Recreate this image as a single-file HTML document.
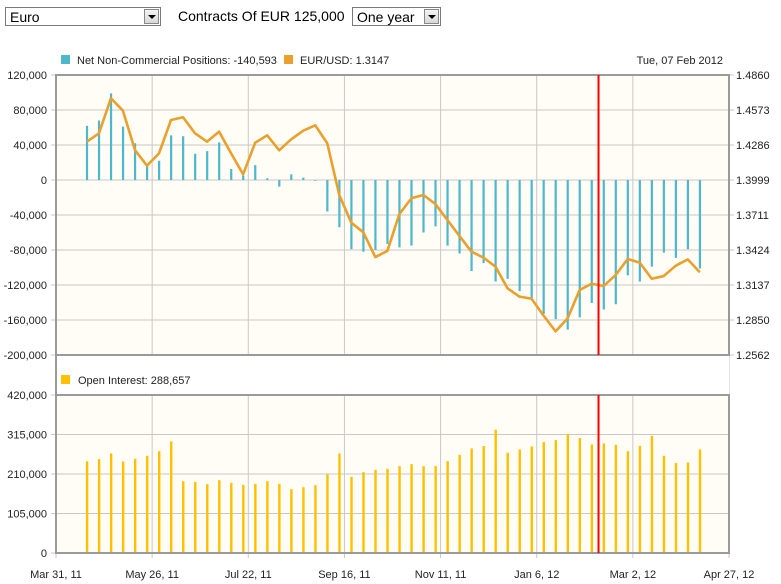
<!DOCTYPE html>
<html><head><meta charset="utf-8"><style>
body{margin:0;width:781px;height:584px;background:#fff;font-family:"Liberation Sans",sans-serif;overflow:hidden;position:relative}
.sel{position:absolute;top:7px;height:19px;border:1px solid #7a7a7a;background:#fff;font-size:14px;line-height:19px;box-sizing:border-box;padding-left:4px}
.sel .arr{position:absolute;right:1px;top:1px;width:15px;height:15px;background:linear-gradient(#f4f4f4,#d8d8d8);border:1px solid #888;box-sizing:border-box}
.sel .arr:after{content:"";position:absolute;left:3px;top:5px;border-left:4px solid transparent;border-right:4px solid transparent;border-top:4px solid #000}
svg text{font-family:"Liberation Sans",sans-serif;font-size:11px;fill:#222}
</style></head><body>
<div class="sel" style="left:5px;width:156px">Euro<span class="arr"></span></div>
<div style="position:absolute;left:178px;top:8px;font-size:14px">Contracts Of EUR 125,000</div>
<div class="sel" style="left:352px;width:89px">One year<span class="arr"></span></div>
<svg id="c" width="781" height="584" style="position:absolute;left:0;top:0"></svg>
<script>
const netPositions=[62000,68000,99000,61000,42000,17000,22000,51000,50000,30000,33000,43000,12500,5000,17000,2000,-7600,6500,2700,-500,-36000,-54000,-79000,-82000,-80000,-73000,-77000,-75000,-60000,-53000,-75000,-84000,-104000,-95000,-116000,-113000,-127000,-137000,-153000,-159000,-171000,-157000,-140593,-148000,-142000,-109000,-116000,-99000,-83000,-89000,-79000,-101000];
const eurUsd=[1.4313,1.4381,1.4669,1.4567,1.4244,1.4116,1.4217,1.4491,1.4513,1.4381,1.4313,1.4395,1.4217,1.4045,1.4304,1.4365,1.4242,1.4332,1.4403,1.4447,1.4300,1.3875,1.3648,1.3569,1.3366,1.3416,1.3719,1.3848,1.3875,1.3801,1.3670,1.3539,1.3410,1.3361,1.3287,1.3109,1.3041,1.3024,1.2885,1.2756,1.2863,1.3096,1.3147,1.3128,1.3219,1.3350,1.3320,1.3188,1.3210,1.3295,1.3347,1.3241];
const openInterest=[244000,249500,264600,243300,250400,258400,270800,296600,190900,189100,183000,193600,186500,181200,183800,190900,183800,169600,174900,180300,209600,264600,202500,214900,221100,223800,230900,236200,230900,230900,244200,261100,277900,284200,327700,266400,275300,283300,294800,300100,316100,305500,288657,291300,287700,270800,285000,311700,258400,238900,240600,275300];
const leftTicks=[120000,80000,40000,0,-40000,-80000,-120000,-160000,-200000];
const rightTicks=["1.4860","1.4573","1.4286","1.3999","1.3711","1.3424","1.3137","1.2850","1.2562"];
const oiTicks=[420000,315000,210000,105000,0];
const dateLabels=["Mar 31, 11","May 26, 11","Jul 22, 11","Sep 16, 11","Nov 11, 11","Jan 6, 12","Mar 2, 12","Apr 27, 12"];
const firstBarDay=18, cursorDay=316;

const svg=document.getElementById('c');const NS='http://www.w3.org/2000/svg';
function mk(t,a,p){const e=document.createElementNS(NS,t);for(const k in a)e.setAttribute(k,a[k]);(p||svg).appendChild(e);return e;}
const L=56,R=729,T1=75,B1=355,T2=395,B2=553;
const xd=d=>L+d*(R-L)/392;
const xi=i=>xd(firstBarDay+7*i);
const yL=v=>T1+(120000-v)*(B1-T1)/320000;
const yR=v=>T1+(1.4860-v)*(B1-T1)/(1.4860-1.2562);
const yO=v=>B2-v*(B2-T2)/420000;
let e;
e=mk('rect',{x:L,y:T1,width:R-L,height:B1-T1,fill:'#fffdf5'});
e=mk('rect',{x:L,y:T2,width:R-L,height:B2-T2,fill:'#fffdf5'});
leftTicks.forEach((v,k)=>{const y=yL(v);
 e=mk('line',{x1:L-5,x2:R+5,y1:y,y2:y,stroke:'#c8c8c8'});
 e=mk('text',{x:47,y:y+4,'text-anchor':'end'});e.textContent=v.toLocaleString('en-US');
 e=mk('text',{x:736,y:y+4});e.textContent=rightTicks[k];});
oiTicks.forEach(v=>{const y=yO(v);
 e=mk('line',{x1:L-5,x2:R,y1:y,y2:y,stroke:'#c8c8c8'});
 e=mk('text',{x:47,y:y+4,'text-anchor':'end'});e.textContent=v.toLocaleString('en-US');});
dateLabels.forEach((s,k)=>{const x=xd(56*k);
 e=mk('line',{x1:x,x2:x,y1:T1,y2:B2+5,stroke:'#c8c8c8'});
 e=mk('text',{x:x,y:578,'text-anchor':'middle'});e.textContent=s;});
e=mk('rect',{x:L,y:T2-40,width:R-L,height:39,fill:'#fff'});
netPositions.forEach((v,i)=>{const x=xi(i),y=yL(v),y0=yL(0);
 e=mk('rect',{x:x-1,y:Math.min(y,y0),width:2.2,height:Math.max(0.8,Math.abs(y-y0)),fill:'#4bb8cc'});});
e=mk('polyline',{points:eurUsd.map((v,i)=>xi(i)+','+yR(v)).join(' '),fill:'none',stroke:'#e9a02c','stroke-width':2.6,'stroke-linejoin':'round'});
openInterest.forEach((v,i)=>{const x=xi(i),y=yO(v);
 e=mk('rect',{x:x-1,y:y,width:2.4,height:B2-y,fill:'#ffc000'});});
e=mk('path',{d:`M${L},${T1}H${R}V${B1}H${L}Z M${L},${T2}H${R}V${B2}H${L}Z`,fill:'none',stroke:'#9a9a9a','stroke-width':2});
e=mk('line',{x1:L,x2:L,y1:B1,y2:T2,stroke:'#9a9a9a','stroke-width':2});
const cx=xd(cursorDay);
e=mk('line',{x1:cx,x2:cx,y1:T1,y2:B1,stroke:'#f00','stroke-width':2});
e=mk('line',{x1:cx,x2:cx,y1:T2,y2:B2,stroke:'#f00','stroke-width':2});
e=mk('rect',{x:61,y:55,width:9,height:9,fill:'#4bb8cc'});
e=mk('text',{x:77,y:64});e.textContent='Net Non-Commercial Positions: -140,593';
e=mk('rect',{x:284,y:55,width:9,height:9,fill:'#e9a02c'});
e=mk('text',{x:300,y:64});e.textContent='EUR/USD: 1.3147';
e=mk('text',{x:723,y:64,'text-anchor':'end'});e.textContent='Tue, 07 Feb 2012';
e=mk('rect',{x:61,y:375,width:9,height:9,fill:'#ffc000'});
e=mk('text',{x:78,y:384});e.textContent='Open Interest: 288,657';
</script>
</body></html>
